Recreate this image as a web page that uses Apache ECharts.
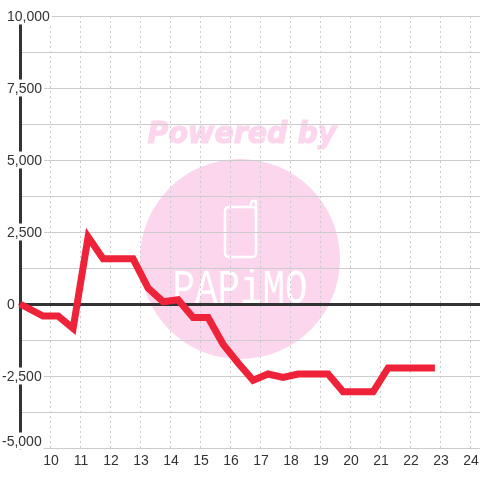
<!DOCTYPE html>
<html>
<head>
<meta charset="utf-8">
<style>html,body{margin:0;padding:0;background:#fff}#c{width:480px;height:480px}</style>
<script src="https://cdn.jsdelivr.net/npm/echarts@6/dist/echarts.min.js"></script>
</head>
<body>
<div id="c"></div>
<script>
const hours = [9,9.77,10.27,10.77,11.27,11.77,12.27,12.77,13.27,13.77,14.27,14.77,15.27,15.77,16.27,16.77,17.27,17.77,18.27,18.77,19.27,19.77,20.27,20.77,21.27,21.77,22.27,22.83];
const values = [0,-420,-420,-850,2330,1570,1570,1570,550,80,150,-470,-470,-1400,-2050,-2650,-2430,-2550,-2430,-2430,-2430,-3050,-3050,-3050,-2220,-2220,-2220,-2220];
const watermarkTitle = 'Powered by';
const watermarkName = 'PAPiMO';

const chart = echarts.init(document.getElementById('c'), null, {renderer:'canvas'});
chart.setOption({
  animation:false,
  backgroundColor:'#fff',
  grid:{left:20, top:16, width:480, height:432, containLabel:false, outerBoundsMode:'none'},
  graphic:[
    {type:'circle', z:-10, shape:{cx:240,cy:259,r:100}, style:{fill:'#fcd6ec'}},
    {type:'text', z:-10, x:242, y:135, scaleX:0.95, style:{text:watermarkTitle, fill:'#fcd6ec', stroke:'#fcd6ec', lineWidth:1.2, font:'italic bold 30px "DejaVu Sans"', align:'center', verticalAlign:'middle'}},
    {type:'rect', z:-10, shape:{x:225,y:207,width:31,height:50,r:4},
      style:{fill:'none', stroke:'#fff', lineWidth:2.5}},
    {type:'polyline', z:-10, shape:{points:[[250,207],[252,201],[256,201],[256,216]]},
      style:{fill:'none', stroke:'#fff', lineWidth:2.5, lineJoin:'round', lineCap:'round'}},
    {type:'text', z:-10, x:240, y:290, scaleX:0.78, style:{text:watermarkName, fill:'#fff', font:'48px "Liberation Mono"', align:'center', verticalAlign:'middle'}}
  ],
  xAxis:[
    {type:'value', min:9, max:25, interval:1, position:'bottom',
     axisLine:{show:false, onZero:false}, axisTick:{show:false},
     axisLabel:{margin:6, padding:[0,0,0,2], fontSize:14, fontFamily:'Liberation Sans', color:'#333',
       formatter:v=> v===9 ? '' : String(v)},
     splitLine:{show:true, lineStyle:{color:'#ccc', type:[2,3], width:1}}},
    {type:'value', min:9, max:25, interval:1, position:'top',
     axisLine:{show:true, onZero:true, lineStyle:{color:'#333', width:3}},
     axisTick:{show:false}, axisLabel:{show:false}, splitLine:{show:false}}
  ],
  yAxis:{type:'value', min:-5000, max:10000, interval:2500, position:'left',
    axisLine:{show:true, onZero:false, lineStyle:{color:'#333', width:3}}, axisTick:{show:false},
    splitLine:{show:true, lineStyle:{color:'#ccc', width:1}},
    minorTick:{show:false, splitNumber:2},
    minorSplitLine:{show:true, lineStyle:{color:'#ccc', width:1}},
    axisLabel:{margin:18, align:'left', verticalAlignMinLabel:'bottom', fontSize:14, fontFamily:'Liberation Sans', color:'#333',
      formatter:v=>{
        const s = v.toLocaleString('en-US');
        return v<0 ? '{n|'+s+'}' : '{p|'+s+'}';
      },
      rich:{
        n:{padding:[3,2,0,0], backgroundColor:'#fff', height:14, lineHeight:14, fontSize:14, fontFamily:'Liberation Sans', color:'#333'},
        p:{padding:[3,2,0,5], backgroundColor:'#fff', height:14, lineHeight:14, fontSize:14, fontFamily:'Liberation Sans', color:'#333'}
      }}
  },
  series:[{type:'line', xAxisIndex:0, symbol:'none', clip:false, smooth:false,
    lineStyle:{color:'#ee2238', width:7, join:'miter', cap:'butt'},
    data:hours.map((h,i)=>[h,values[i]])}]
});
</script>
</body>
</html>
